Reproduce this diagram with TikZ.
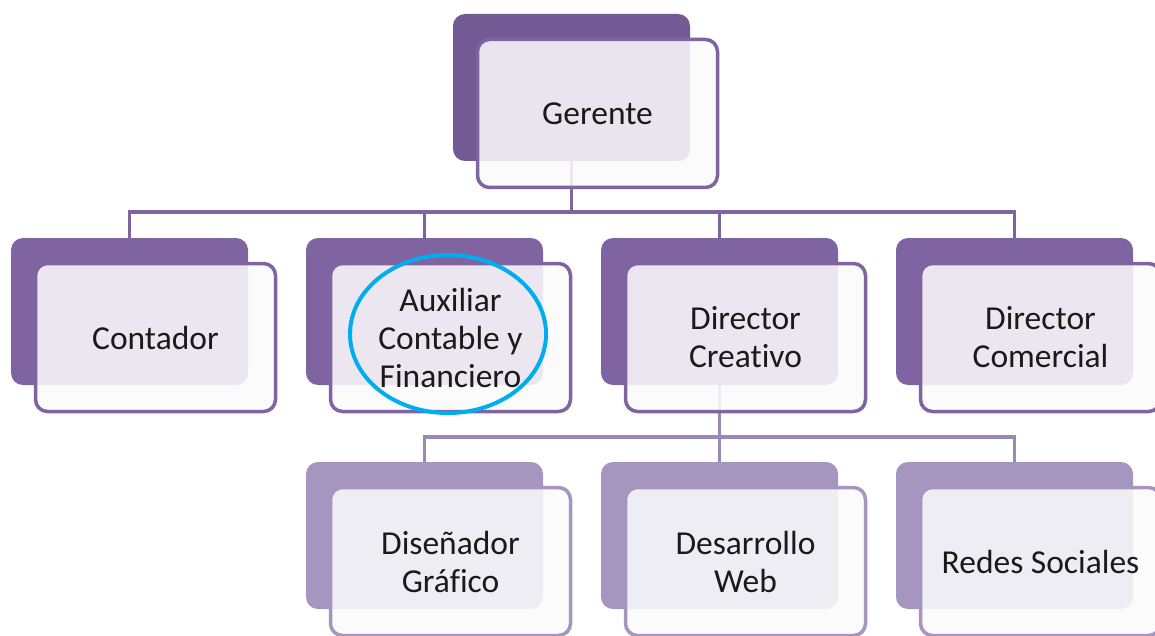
\documentclass[tikz,border=0pt]{standalone}
\usepackage{fontspec}
\setmainfont{Carlito}[Ligatures={NoCommon,NoContextual}]
\usetikzlibrary{shapes.geometric}
\definecolor{purp}{HTML}{8064A2}
\definecolor{purpdark}{HTML}{735A94}
\definecolor{purplight}{HTML}{A596BF}
\definecolor{purpline}{HTML}{9A88B6}
\definecolor{hlblue}{HTML}{00AEEF}
\definecolor{txt}{HTML}{1A1A1A}
\begin{document}
\begin{tikzpicture}[x=1pt,y=-1pt,
  backbox/.style={rounded corners=12pt, minimum width=237pt, minimum height=147pt, inner sep=0pt, fill=#1},
  frontbox/.style={rounded corners=12pt, minimum width=240pt, minimum height=148pt, inner sep=0pt,
     draw=#1, line width=3.5pt, fill=white!97!purp, fill opacity=0.87, text opacity=1,
     align=center, font=\fontsize{33.5}{38}\selectfont, text=txt},
  conn/.style={draw=#1, line width=3.5pt}]
\useasboundingbox (0,0) rectangle (1155,636);
% back boxes
\node[backbox=purpdark] (gerB) at (571.5,87.5) {};
\node[backbox=purp] (conB) at (129.5,311.5) {};
\node[backbox=purp] (auxB) at (424.5,311.5) {};
\node[backbox=purp] (creB) at (719.5,311.5) {};
\node[backbox=purp] (comB) at (1014.5,311.5) {};
\node[backbox=purplight] (disB) at (424.5,535.5) {};
\node[backbox=purplight] (desB) at (719.5,535.5) {};
\node[backbox=purplight] (redB) at (1014.5,535.5) {};
% connectors
\coordinate (bus1) at (571.5,212);
\coordinate (bus2) at (719.5,437);
\draw[conn=purp] (gerB.south) -- (bus1);
\draw[conn=purp] (conB.north) |- (bus1) -| (comB.north);
\draw[conn=purp] (auxB.north) -- (auxB.north |- bus1);
\draw[conn=purp] (creB.north) -- (creB.north |- bus1);
\draw[conn=purpline] (creB.south) -- (bus2);
\draw[conn=purpline] (disB.north) |- (bus2) -| (redB.north);
\draw[conn=purpline] (desB.north) -- (bus2);
% front boxes
\node[frontbox=purp] (ger) at (597.5,113.5) {Gerente};
\node[frontbox=purp] (con) at (155.5,337.5) {Contador};
\node[frontbox=purp] (aux) at (450.5,337.5) {Auxiliar\\Contable y\\Financiero};
\node[frontbox=purp] (cre) at (745.5,337.5) {Director\\Creativo};
\node[frontbox=purp] (com) at (1040.5,337.5) {Director\\Comercial};
\node[frontbox=purplight] (dis) at (450.5,561.5) {Diseñador\\Gráfico};
\node[frontbox=purplight] (des) at (745.5,561.5) {Desarrollo\\Web};
\node[frontbox=purplight] (red) at (1040.5,561.5) {Redes Sociales};
% highlight
\node[ellipse, draw=hlblue, line width=4pt, minimum width=196pt, minimum height=158pt] (hl) at (448,334) {};
\end{tikzpicture}
\end{document}
